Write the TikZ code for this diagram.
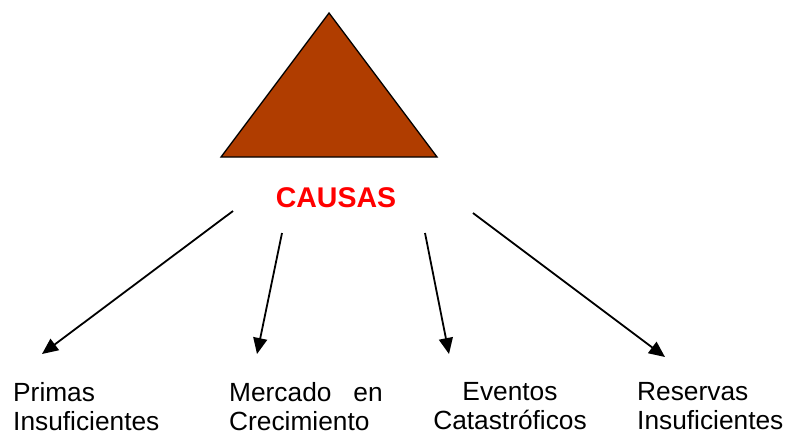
\documentclass[tikz,border=0pt]{standalone}
\usepackage{fontspec}
\setmainfont{Liberation Sans}
\usetikzlibrary{arrows.meta}
\definecolor{tribrown}{RGB}{176,61,0}
\definecolor{causred}{RGB}{255,0,0}
\begin{document}
\begin{tikzpicture}[x=1pt,y=-1pt,
  lbl/.style={inner sep=0pt, font=\fontsize{26.3}{29}\selectfont},
  arr/.style={line width=1.8pt, -{Triangle[length=16pt,width=14pt]}}]
\useasboundingbox (0,0) rectangle (789,437);
% triangle
\coordinate (apex) at (329,13);
\coordinate (bl) at (221,157);
\coordinate (br) at (437,157);
\draw[fill=tribrown, line width=1.3pt, line join=miter] (apex) -- (br) -- (bl) -- cycle;
% title
\node[anchor=base, inner sep=0pt, text=causred, font=\fontsize{28.5}{31}\selectfont\bfseries] (causas) at (336,207) {CAUSAS};
% arrow end points
\coordinate (s1) at (233,211);
\coordinate (t1) at (42,354);
\coordinate (s2) at (282,233);
\coordinate (t2) at (257,354);
\coordinate (s3) at (425,233);
\coordinate (t3) at (449,354);
\coordinate (s4) at (473,213);
\coordinate (t4) at (665,357);
\draw[arr] (s1) -- (t1);
\draw[arr] (s2) -- (t2);
\draw[arr] (s3) -- (t3);
\draw[arr] (s4) -- (t4);
% labels
\node[lbl, anchor=north west, align=left] (primas) at (13,382) {Primas\\Insuficientes};
\node[lbl, anchor=north west, align=left] (mercado) at (229,382) {Mercado\hspace{22pt}en\\Crecimiento};
\node[lbl, anchor=north, align=center] (eventos) at (510,382) {Eventos\\Catastróficos};
\node[lbl, anchor=north west, align=left] (reservas) at (637,382) {Reservas\\Insuficientes};
\end{tikzpicture}
\end{document}
